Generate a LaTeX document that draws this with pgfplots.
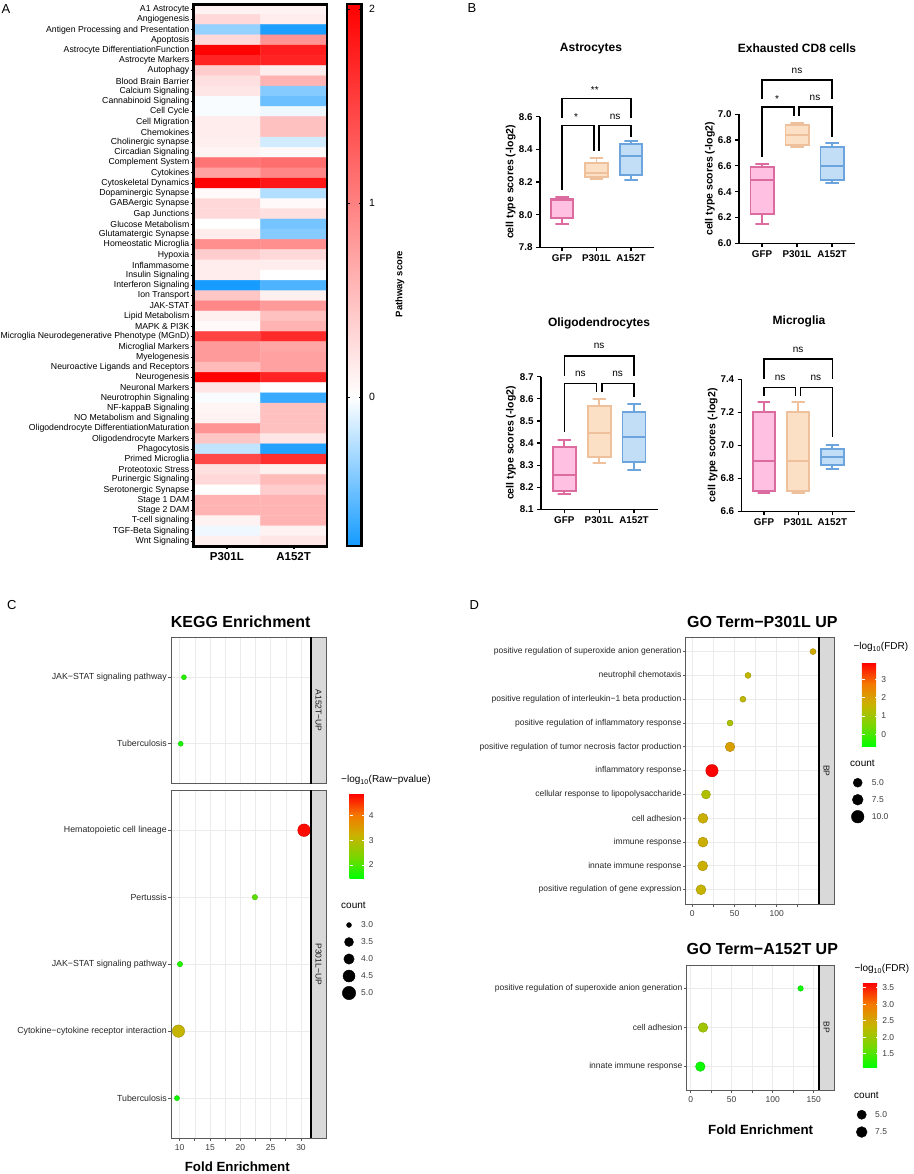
\documentclass[border=0pt]{standalone}
\usepackage{fontspec}
\setmainfont{Liberation Sans}
\usepackage{pgfplots}
\pgfplotsset{compat=1.18}

\newcommand{\fz}[1]{\fontsize{#1}{#1}\selectfont}

\definecolor{gfpF}{RGB}{255,192,226}
\definecolor{gfpD}{RGB}{220,108,160}
\definecolor{pF}{RGB}{252,224,198}
\definecolor{pD}{RGB}{238,192,156}
\definecolor{aF}{RGB}{194,221,246}
\definecolor{aD}{RGB}{108,164,222}
\definecolor{gridc}{RGB}{235,235,235}
\definecolor{stripc}{RGB}{217,217,217}
\definecolor{txt}{RGB}{60,60,60}
\definecolor{framec}{RGB}{90,90,90}

\tikzset{br/.style={line width=1.2pt}}

\pgfplotsset{
  colormap={pw}{rgb255(0pt)=(20,155,255); rgb255(768pt)=(255,255,255); rgb255(2794pt)=(255,0,0)},
  colormap={gr}{rgb255(0pt)=(0,255,0); rgb255(1pt)=(120,215,0); rgb255(2pt)=(200,180,0); rgb255(3pt)=(245,120,0); rgb255(4pt)=(255,0,0)},
  boxax/.style={scale only axis, anchor=north west, clip=false, enlargelimits=false,
    axis lines*=left, axis line style={line width=1.2pt},
    xtick={1,2,3}, xticklabels={GFP,P301L,A152T},
    tick align=outside, major tick length=4pt, tick style={black,line width=1.2pt},
    tick label style={font=\bfseries\fz{9.8}},
    /pgf/number format/assume math mode=true,
    /pgf/number format/fixed, /pgf/number format/fixed zerofill, /pgf/number format/precision=1},
  ggax/.style={scale only axis, anchor=north west, enlargelimits=false, y dir=reverse,
    axis line style={draw=framec, line width=0.9pt},
    xmajorgrids, xminorgrids, ymajorgrids,
    major grid style={gridc, line width=0.9pt}, minor grid style={gridc, line width=0.5pt},
    tick align=outside, major tick length=2.6pt, tick style={framec, line width=0.7pt},
    xtick pos=bottom, ytick pos=left,
    xticklabel style={font=\fz{8.5}, text=txt},
    yticklabel style={font=\fz{8.8}, text=black!85, inner sep=1.5pt},
    /pgf/number format/assume math mode=true},
  ggcb/.style={at={(parent axis.north east)}, anchor=north west, scale only axis, y dir=normal,
    grid=none, axis line style={draw=none}, ytick pos=both, yticklabel pos=right,
    tick align=inside, major tick length=3pt, ytick style={white, line width=0.7pt},
    yticklabel style={font=\fz{8.5}, text=txt},
    /pgf/number format/assume math mode=true},
}

% box: #1 position, #2 lower whisker, #3 lower quartile, #4 median,
% #5 upper quartile, #6 upper whisker, #7 colour prefix
\newcommand{\bxp}[7]{%
  \pgfmathsetmacro\bxL{#1-0.33}\pgfmathsetmacro\bxR{#1+0.33}%
  \pgfmathsetmacro\cpL{#1-0.19}\pgfmathsetmacro\cpR{#1+0.19}%
  \addplot[draw=#7D, fill=#7F, line width=1.9pt] coordinates {(\bxL,#3) (\bxR,#3) (\bxR,#5) (\bxL,#5)} -- cycle;
  \addplot[draw=#7D, line width=1.9pt] coordinates {(\bxL,#4) (\bxR,#4)};
  \addplot[draw=#7D, line width=1.9pt] coordinates {(#1,#5) (#1,#6) (\cpL,#6) (\cpR,#6)};
  \addplot[draw=#7D, line width=1.9pt] coordinates {(#1,#3) (#1,#2) (\cpL,#2) (\cpR,#2)};
}

\begin{document}
\begin{tikzpicture}
\path[use as bounding box] (0pt,0pt) rectangle (913pt,-1174pt);

% ---------------- A: heatmap ----------------
\begin{axis}[at={(193.5pt,-4.2pt)}, anchor=north west, scale only axis,
  width=133.5pt, height=542pt, enlargelimits=false,
  xmin=-0.5, xmax=1.5, ymin=-0.5, ymax=52.5, y dir=reverse,
  axis line style={line width=2.6pt}, axis on top,
  xtick={0,1}, xticklabels={P301L,A152T},
  ytick={0,...,52},
  yticklabels={A1 Astrocyte, Angiogenesis, Antigen Processing and Presentation, Apoptosis,
    Astrocyte DifferentiationFunction, Astrocyte Markers, Autophagy, Blood Brain Barrier,
    Calcium Signaling, Cannabinoid Signaling, Cell Cycle, Cell Migration, Chemokines,
    Cholinergic synapse, Circadian Signaling, Complement System, Cytokines,
    Cytoskeletal Dynamics, Dopaminergic Synapse, GABAergic Synapse, Gap Junctions,
    Glucose Metabolism, Glutamatergic Synapse, Homeostatic Microglia, Hypoxia,
    Inflammasome, Insulin Signaling, Interferon Signaling, Ion Transport, JAK-STAT,
    Lipid Metabolism, MAPK \& PI3K, Microglia Neurodegenerative Phenotype (MGnD),
    Microglial Markers, Myelogenesis, Neuroactive Ligands and Receptors, Neurogenesis,
    Neuronal Markers, Neurotrophin Signaling, NF-kappaB Signaling, NO Metabolism and Signaling,
    Oligodendrocyte DifferentiationMaturation, Oligodendrocyte Markers, Phagocytosis,
    Primed Microglia, Proteotoxic Stress, Purinergic Signaling, Serotonergic Synapse,
    Stage 1 DAM, Stage 2 DAM, T-cell signaling, TGF-Beta Signaling, Wnt Signaling},
  xtick pos=bottom, ytick pos=left, tick align=outside, major tick length=3pt,
  ytick style={black, line width=0.9pt}, xtick style={black, line width=2pt},
  xticklabel style={font=\bfseries\fz{11.5}},
  yticklabel style={font=\fz{8.7}, inner sep=1pt},
  colormap name=pw, point meta min=-0.768, point meta max=2.026,
  colorbar,
  colorbar style={at={(parent axis.north east)}, anchor=north west, xshift=11.5pt,
    scale only axis, width=14.5pt, y dir=normal, grid=none,
    axis line style={line width=2.6pt}, axis on top,
    ytick={0,1,2}, ytick pos=both, yticklabel pos=right, tick align=inside,
    major tick length=2.5pt, ytick style={black, line width=1pt},
    yticklabel style={font=\fz{10.5}, xshift=4pt},
    /pgf/number format/assume math mode=true}]
\addplot[matrix plot*, mesh/cols=2, point meta=explicit] table[meta=c] {
x y c
0 0 0.10
1 0 0.10
0 1 0.30
1 1 0.15
0 2 -0.35
1 2 -0.74
0 3 0.30
1 3 0.85
0 4 2.00
1 4 1.80
0 5 1.75
1 5 1.75
0 6 0.40
1 6 0.15
0 7 0.25
1 7 0.60
0 8 0.20
1 8 -0.40
0 9 -0.02
1 9 -0.48
0 10 -0.02
1 10 -0.05
0 11 0.15
1 11 0.50
0 12 0.15
1 12 0.50
0 13 0.12
1 13 -0.15
0 14 0.08
1 14 0.04
0 15 1.10
1 15 1.15
0 16 0.75
1 16 0.95
0 17 2.00
1 17 1.85
0 18 0.05
1 18 -0.25
0 19 0.30
1 19 0.05
0 20 0.30
1 20 0.25
0 21 0.00
1 21 -0.45
0 22 0.15
1 22 -0.40
0 23 0.90
1 23 0.90
0 24 0.40
1 24 0.30
0 25 0.15
1 25 0.15
0 26 0.15
1 26 0.00
0 27 -0.76
1 27 -0.58
0 28 0.45
1 28 0.12
0 29 0.95
1 29 0.80
0 30 0.12
1 30 0.50
0 31 0.05
1 31 0.60
0 32 1.50
1 32 1.70
0 33 0.80
1 33 0.70
0 34 0.80
1 34 0.75
0 35 0.55
1 35 0.75
0 36 2.00
1 36 1.75
0 37 0.20
1 37 0.00
0 38 -0.02
1 38 -0.65
0 39 0.08
1 39 0.50
0 40 0.10
1 40 0.50
0 41 0.85
1 41 0.50
0 42 0.45
1 42 0.20
0 43 -0.20
1 43 -0.72
0 44 1.45
1 44 1.65
0 45 0.25
1 45 0.12
0 46 0.30
1 46 0.55
0 47 0.00
1 47 0.40
0 48 0.60
1 48 0.60
0 49 0.60
1 49 0.60
0 50 0.10
1 50 0.60
0 51 -0.05
1 51 0.10
0 52 0.12
1 52 0.20
};
\end{axis}

% ---------------- B: box plots ----------------
\begin{axis}[boxax, at={(540pt,-116.7pt)}, width=114pt, height=130.6pt,
  xmin=0.362, xmax=3.667, ymin=7.8, ymax=8.6, ytick={7.8,8.0,8.2,8.4,8.6}]
\bxp{1}{7.943}{7.98}{8.09}{8.098}{8.108}{gfp}
\bxp{2}{8.216}{8.23}{8.253}{8.317}{8.345}{p}
\bxp{3}{8.21}{8.241}{8.36}{8.433}{8.453}{a}
\draw[br] (1,8.592) |- (3,8.713) -- (3,8.592);
\draw[br] (1,8.151) |- (1.93,8.545) -- (1.93,8.392);
\draw[br] (2.07,8.392) |- (3,8.545) -- (3,8.478);
\node[font=\fz{10}, yshift=-2.3pt] at (1.95,8.78) {**};
\node[font=\fz{10}, yshift=-2.3pt] at (1.41,8.61) {*};
\node[font=\fz{10}] at (2.54,8.60) {ns};
\end{axis}

\begin{axis}[boxax, at={(739pt,-114.3pt)}, width=116pt, height=129pt,
  xmin=0.343, xmax=3.657, ymin=6.0, ymax=7.0, ytick={6.0,6.2,6.4,6.6,6.8,7.0}]
\bxp{1}{6.152}{6.225}{6.488}{6.59}{6.612}{gfp}
\bxp{2}{6.747}{6.76}{6.84}{6.92}{6.935}{p}
\bxp{3}{6.47}{6.488}{6.60}{6.747}{6.775}{a}
\draw[br] (1,7.116) |- (3,7.266) -- (3,7.116);
\draw[br] (1,6.671) |- (1.914,7.057) -- (1.914,6.989);
\draw[br] (2.057,6.989) |- (3,7.057) -- (3,6.822);
\node[font=\fz{10}] at (2,7.338) {ns};
\node[font=\fz{10}, yshift=-2.3pt] at (1.43,7.136) {*};
\node[font=\fz{10}] at (2.514,7.126) {ns};
\end{axis}

\begin{axis}[boxax, at={(541pt,-376.7pt)}, width=116.7pt, height=132.6pt,
  xmin=0.331, xmax=3.68, ymin=8.1, ymax=8.7, ytick={8.1,8.2,8.3,8.4,8.5,8.6,8.7}]
\bxp{1}{8.169}{8.181}{8.257}{8.383}{8.412}{gfp}
\bxp{2}{8.311}{8.338}{8.445}{8.567}{8.60}{p}
\bxp{3}{8.279}{8.313}{8.427}{8.54}{8.576}{a}
\draw[br] (1,8.703) |- (3,8.794) -- (3,8.703);
\draw[br] (1,8.45) |- (1.93,8.668) -- (1.93,8.629);
\draw[br] (2.08,8.629) |- (3,8.668) -- (3,8.607);
\node[font=\fz{10}] at (2,8.84) {ns};
\node[font=\fz{10}] at (1.46,8.714) {ns};
\node[font=\fz{10}] at (2.53,8.714) {ns};
\end{axis}

\begin{axis}[boxax, at={(741.7pt,-379.3pt)}, width=113.3pt, height=132pt,
  xmin=0.347, xmax=3.665, ymin=6.6, ymax=7.4, ytick={6.6,6.8,7.0,7.2,7.4}]
\bxp{1}{6.709}{6.723}{6.905}{7.204}{7.261}{gfp}
\bxp{2}{6.709}{6.723}{6.905}{7.204}{7.26}{p}
\bxp{3}{6.855}{6.879}{6.931}{6.976}{7.0}{a}
\draw[br] (1,7.4) |- (3,7.523) -- (3,7.4);
\draw[br] (1,7.297) |- (1.917,7.352) -- (1.917,7.297);
\draw[br] (2.063,7.297) |- (3,7.352) -- (3,7.05);
\node[font=\fz{10}] at (2,7.578) {ns};
\node[font=\fz{10}] at (1.47,7.41) {ns};
\node[font=\fz{10}] at (2.52,7.41) {ns};
\end{axis}

% ---------------- C: KEGG ----------------
\begin{axis}[ggax, at={(171pt,-637.3pt)}, width=140pt, height=146.4pt,
  xmin=8.57, xmax=31.65, ymin=0.4, ymax=2.6,
  xtick={10,15,20,25,30}, minor xtick={12.5,17.5,22.5,27.5}, xticklabels={},
  xtick style={draw=none},
  ytick={1,2}, yticklabels={JAK−STAT signaling pathway, Tuberculosis},
  colormap name=gr, point meta min=1.46, point meta max=4.87]
\addplot[scatter, only marks, mark=*, point meta=explicit,
  visualization depends on={\thisrow{r} \as \rad},
  scatter/@pre marker code/.append style={/tikz/mark size=\rad}]
  table[x=x, y=y, meta=c] {
x y c r
10.7 1 1.7 2.5
10.17 2 1.6 2.5
};
\end{axis}

\begin{axis}[ggax, at={(171pt,-790pt)}, width=140pt, height=348.3pt,
  xmin=8.57, xmax=31.65, ymin=0.4, ymax=5.6,
  xtick={10,15,20,25,30}, minor xtick={12.5,17.5,22.5,27.5},
  ytick={1,2,3,4,5},
  yticklabels={Hematopoietic cell lineage, Pertussis, JAK−STAT signaling pathway,
    Cytokine−cytokine receptor interaction, Tuberculosis},
  colormap name=gr, point meta min=1.46, point meta max=4.87,
  colorbar, colorbar style={ggcb, xshift=30pt, yshift=-3.7pt, width=15.7pt,
    height=84.6pt, ytick={2,3,4}}]
\addplot[scatter, only marks, mark=*, point meta=explicit,
  visualization depends on={\thisrow{r} \as \rad},
  scatter/@pre marker code/.append style={/tikz/mark size=\rad}]
  table[x=x, y=y, meta=c] {
x y c r
30.5 1 4.8 6.3
22.4 2 2.1 2.7
10.05 3 1.7 2.7
9.8 4 3.15 6.2
9.55 5 1.6 2.6
};
\end{axis}

% ---------------- D: GO terms ----------------
\begin{axis}[ggax, at={(685.7pt,-637.3pt)}, width=133.3pt, height=266.7pt,
  xmin=-7.8, xmax=150.1, ymin=0.4, ymax=11.6,
  xtick={0,50,100}, minor xtick={25,75,125},
  ytick={1,...,11},
  yticklabel style={font=\fz{8.5}},
  yticklabels={positive regulation of superoxide anion generation, neutrophil chemotaxis,
    positive regulation of interleukin−1 beta production,
    positive regulation of inflammatory response,
    positive regulation of tumor necrosis factor production, inflammatory response,
    cellular response to lipopolysaccharide, cell adhesion, immune response,
    innate immune response, positive regulation of gene expression},
  colormap name=gr, point meta min=-0.68, point meta max=3.9,
  colorbar, colorbar style={ggcb, xshift=34.3pt, yshift=-25.4pt, width=16pt,
    height=84pt, ytick={0,1,2,3}}]
\addplot[scatter, only marks, mark=*, point meta=explicit,
  visualization depends on={\thisrow{r} \as \rad},
  scatter/@pre marker code/.append style={/tikz/mark size=\rad}]
  table[x=x, y=y, meta=c] {
x y c r
143 1 1.8 3.0
66 2 1.5 3.0
60 3 1.5 3.0
44.7 4 1.2 3.0
44.7 5 2.0 4.8
23.3 6 3.9 6.2
16.2 7 1.3 4.5
12.6 8 1.7 5.0
12.6 9 1.7 5.0
12.3 10 1.7 5.0
10.3 11 1.6 5.0
};
\end{axis}

\begin{axis}[ggax, at={(686.7pt,-965pt)}, width=132.3pt, height=125pt,
  xmin=-4.9, xmax=156.5, ymin=0.4, ymax=3.6,
  xtick={0,50,100,150}, minor xtick={25,75,125},
  ytick={1,2,3},
  yticklabel style={font=\fz{8.5}},
  yticklabels={positive regulation of superoxide anion generation, cell adhesion,
    innate immune response},
  colormap name=gr, point meta min=1.09, point meta max=3.65,
  colorbar, colorbar style={ggcb, xshift=35.3pt, yshift=-17.7pt, width=16pt,
    height=84.6pt, ytick={1.5,2.0,2.5,3.0,3.5},
    /pgf/number format/fixed, /pgf/number format/fixed zerofill,
    /pgf/number format/precision=1}]
\addplot[scatter, only marks, mark=*, point meta=explicit,
  visualization depends on={\thisrow{r} \as \rad},
  scatter/@pre marker code/.append style={/tikz/mark size=\rad}]
  table[x=x, y=y, meta=c] {
x y c r
134 1 1.15 2.8
15 2 2.06 4.8
11.7 3 1.15 4.8
};
\end{axis}

% ---------------- texts, strips and size legends ----------------
\begin{axis}[at={(0pt,0pt)}, anchor=north west, scale only axis, width=913pt, height=1174pt,
  xmin=0, xmax=913, ymin=0, ymax=1174, y dir=reverse, hide axis, clip=false]
% panel letters
\node[font=\fz{13}] at (6,9.5) {A};
\node[font=\fz{13}] at (472,8) {B};
\node[font=\fz{13}] at (11.7,605) {C};
\node[font=\fz{13}] at (474.3,605) {D};
% A
\node[rotate=90, font=\bfseries\fz{9.5}] at (400,284) {Pathway score};
% B
\node[font=\bfseries\fz{12}] at (591,49) {Astrocytes};
\node[font=\bfseries\fz{12}] at (797,48) {Exhausted CD8 cells};
\node[font=\bfseries\fz{12}] at (599,323.3) {Oligodendrocytes};
\node[font=\bfseries\fz{12}] at (799,321.7) {Microglia};
\node[rotate=90, font=\bfseries\fz{10.5}] at (510.7,182) {cell type scores (-log2)};
\node[rotate=90, font=\bfseries\fz{10.5}] at (710,178.8) {cell type scores (-log2)};
\node[rotate=90, font=\bfseries\fz{10.5}] at (511,443) {cell type scores (-log2)};
\node[rotate=90, font=\bfseries\fz{10.5}] at (712.7,445.3) {cell type scores (-log2)};
% C
\node[font=\bfseries\fz{16}] at (240.7,621.7) {KEGG Enrichment};
\node[font=\bfseries\fz{13.3}] at (237.3,1166.7) {Fold Enrichment};
\fill[stripc] (311,637.3) rectangle (326,783.7);
\draw[framec, line width=0.9pt] (311,637.3) rectangle (326,783.7);
\draw[black, line width=1.2pt] (311,637.3) -- (311,783.7);
\node[rotate=-90, font=\fz{8.5}, text=black!90] at (318.5,710.5) {A152T−UP};
\fill[stripc] (311,790) rectangle (326,1138.3);
\draw[framec, line width=0.9pt] (311,790) rectangle (326,1138.3);
\draw[black, line width=1.2pt] (311,790) -- (311,1138.3);
\node[rotate=-90, font=\fz{8.5}, text=black!90] at (318.5,964.2) {P301L−UP};
\node[anchor=west, font=\fz{10}, inner sep=0pt] at (341,780) {−log\textsubscript{10}(Raw−pvalue)};
\node[anchor=west, font=\fz{10}, inner sep=0pt] at (341,905.7) {count};
\addplot[only marks, mark=*, black, mark size=2.5] coordinates {(349,925)};
\addplot[only marks, mark=*, black, mark size=4.5] coordinates {(349,942)};
\addplot[only marks, mark=*, black, mark size=5.2] coordinates {(349,959)};
\addplot[only marks, mark=*, black, mark size=6.0] coordinates {(349,976)};
\addplot[only marks, mark=*, black, mark size=6.7] coordinates {(349,993)};
\node[anchor=west, font=\fz{8.5}, text=txt, inner sep=0pt] at (361,925) {3.0};
\node[anchor=west, font=\fz{8.5}, text=txt, inner sep=0pt] at (361,942) {3.5};
\node[anchor=west, font=\fz{8.5}, text=txt, inner sep=0pt] at (361,959) {4.0};
\node[anchor=west, font=\fz{8.5}, text=txt, inner sep=0pt] at (361,976) {4.5};
\node[anchor=west, font=\fz{8.5}, text=txt, inner sep=0pt] at (361,993) {5.0};
% D
\node[font=\bfseries\fz{16}] at (762.3,621.7) {GO Term−P301L UP};
\node[font=\bfseries\fz{16}] at (762.3,949.3) {GO Term−A152T UP};
\node[font=\bfseries\fz{13.3}] at (760.7,1129.3) {Fold Enrichment};
\fill[stripc] (819,637.3) rectangle (834,904);
\draw[framec, line width=0.9pt] (819,637.3) rectangle (834,904);
\draw[black, line width=1.2pt] (819,637.3) -- (819,904);
\node[rotate=-90, font=\fz{8.5}, text=black!90] at (826.5,770.7) {BP};
\fill[stripc] (819,965) rectangle (834,1090);
\draw[framec, line width=0.9pt] (819,965) rectangle (834,1090);
\draw[black, line width=1.2pt] (819,965) -- (819,1090);
\node[rotate=-90, font=\fz{8.5}, text=black!90] at (826.5,1027.5) {BP};
\node[anchor=west, font=\fz{10}, inner sep=0pt] at (853.3,647.3) {−log\textsubscript{10}(FDR)};
\node[anchor=west, font=\fz{10}, inner sep=0pt] at (850,763.3) {count};
\addplot[only marks, mark=*, black, mark size=4.5] coordinates {(857.7,782.7)};
\addplot[only marks, mark=*, black, mark size=5.4] coordinates {(857.7,799.7)};
\addplot[only marks, mark=*, black, mark size=6.3] coordinates {(857.7,816.7)};
\node[anchor=west, font=\fz{8.5}, text=txt, inner sep=0pt] at (871.7,782.7) {5.0};
\node[anchor=west, font=\fz{8.5}, text=txt, inner sep=0pt] at (871.7,799.7) {7.5};
\node[anchor=west, font=\fz{8.5}, text=txt, inner sep=0pt] at (871.7,816.7) {10.0};
\node[anchor=west, font=\fz{10}, inner sep=0pt] at (854.3,969.3) {−log\textsubscript{10}(FDR)};
\node[anchor=west, font=\fz{10}, inner sep=0pt] at (854,1095) {count};
\addplot[only marks, mark=*, black, mark size=4.6] coordinates {(861.7,1114.7)};
\addplot[only marks, mark=*, black, mark size=5.4] coordinates {(861.7,1132)};
\node[anchor=west, font=\fz{8.5}, text=txt, inner sep=0pt] at (875,1114.7) {5.0};
\node[anchor=west, font=\fz{8.5}, text=txt, inner sep=0pt] at (875,1132) {7.5};
\end{axis}
\end{tikzpicture}
\end{document}
